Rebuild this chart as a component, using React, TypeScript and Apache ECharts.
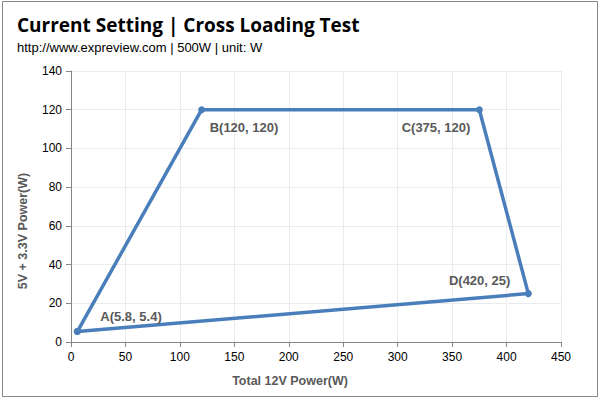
import React, { useEffect, useRef } from "react";
import * as echarts from "echarts";

const pointNames = ["A", "B", "C", "D"];
const xValues = [5.8, 120, 375, 420];
const yValues = [5.4, 120, 120, 25];
const xTicks = { min: 0, max: 450, interval: 50 };
const yTicks = { min: 0, max: 140, interval: 20 };
const xAxisName = "Total 12V Power(W)";
const yAxisName = "5V + 3.3V Power(W)";

const labelPlacement: Record<string, { align: string; offset: number[] }> = {
  A: { align: "left", offset: [23, -15] },
  B: { align: "left", offset: [8, 18] },
  C: { align: "right", offset: [-9, 18] },
  D: { align: "right", offset: [-18, -13] },
};

export default function App() {
  const ref = useRef<HTMLDivElement>(null);
  useEffect(() => {
    if (!ref.current) return;
    const chart = echarts.init(ref.current, null, { renderer: "svg" });
    const pts = pointNames.map((n, i) => ({
      value: [xValues[i], yValues[i]],
      name: n,
      label: {
        show: true,
        position: "inside",
        align: labelPlacement[n].align,
        verticalAlign: "middle",
        offset: labelPlacement[n].offset,
        formatter: `${n}(${xValues[i]}, ${yValues[i]})`,
      },
    }));
    const data = [...pts, { value: [xValues[0], yValues[0]], name: "A2", label: { show: false } }];
    const axisNameStyle = { fontFamily: "Liberation Sans", fontSize: 12.5, fontWeight: "bold", fill: "#595959" };
    chart.setOption({
      animation: false,
      backgroundColor: "#ffffff",
      title: {
        text: "Current Setting | Cross Loading Test",
        subtext: "http://www.expreview.com | 500W | unit: W",
        left: 12,
        top: 10,
        itemGap: 7,
        textStyle: { fontFamily: "Open Sans", fontSize: 19, fontWeight: "bold", color: "#000" },
        subtextStyle: { fontFamily: "Liberation Sans", fontSize: 13, color: "#000" },
      },
      graphic: [
        {
          type: "rect",
          shape: { x: 2.5, y: 1.5, width: 595, height: 395 },
          style: { fill: "none", stroke: "#878787", lineWidth: 1 },
          silent: true,
        },
        {
          type: "text",
          x: 290,
          y: 381,
          style: { ...axisNameStyle, text: xAxisName, align: "center", verticalAlign: "middle" },
          silent: true,
        },
        {
          type: "text",
          x: 23,
          y: 231,
          rotation: Math.PI / 2,
          style: { ...axisNameStyle, text: yAxisName, align: "center", verticalAlign: "middle" },
          silent: true,
        },
      ],
      grid: { left: 71, right: 39, top: 71, bottom: 57 },
      xAxis: {
        type: "value",
        ...xTicks,
        axisLine: { show: true, lineStyle: { color: "#868686" } },
        axisTick: { show: true, lineStyle: { color: "#868686" }, length: 5 },
        axisLabel: { fontFamily: "Liberation Sans", fontSize: 12, color: "#000", margin: 9 },
        splitLine: { show: true, lineStyle: { color: "#ebebeb" } },
      },
      yAxis: {
        type: "value",
        ...yTicks,
        axisLine: { show: true, lineStyle: { color: "#868686" } },
        axisTick: { show: true, lineStyle: { color: "#868686" }, length: 5 },
        axisLabel: { fontFamily: "Liberation Sans", fontSize: 12, color: "#000", margin: 9 },
        splitLine: { show: true, lineStyle: { color: "#ebebeb" } },
      },
      series: [
        {
          type: "line",
          data,
          symbol: "circle",
          symbolSize: 7,
          showAllSymbol: true,
          lineStyle: { color: "#4a7ebb", width: 3.5 },
          itemStyle: { color: "#4a7ebb" },
          label: {
            fontFamily: "Liberation Sans",
            fontSize: 13,
            fontWeight: "bold",
            color: "#595959",
          },
        },
      ],
    });
    return () => chart.dispose();
  }, []);
  return (
    <div
      ref={ref}
      style={{ position: "fixed", left: 0, top: 0, width: 600, height: 399 }}
    />
  );
}
